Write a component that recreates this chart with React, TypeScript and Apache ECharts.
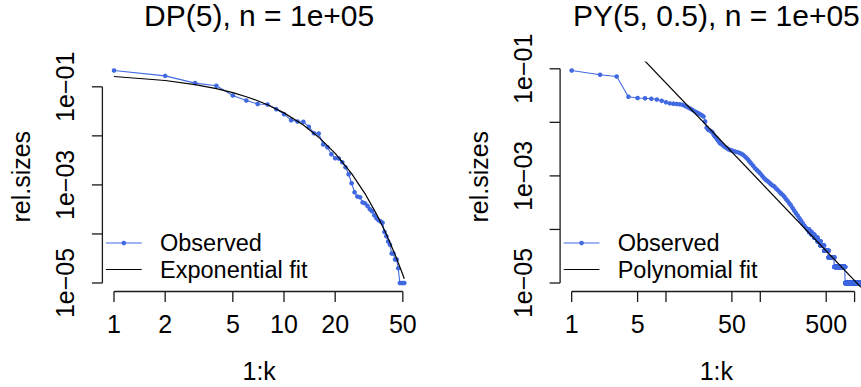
import React, { useEffect, useRef } from "react";
import * as echarts from "echarts";

// ---------------- data ----------------
const N_OBS = 1e5;

// DP(5): relative cluster sizes for k = 1..51 (plotted against 1:k)
const dpRelSizes = [
  0.215, 0.167, 0.119, 0.105, 0.0665, 0.0526, 0.0445, 0.0436, 0.035, 0.0277,
  0.0209, 0.0196, 0.0193, 0.0153, 0.01135, 0.01114, 0.00665, 0.00587, 0.00423, 0.0035,
  0.00344, 0.0029, 0.0023, 0.00165, 0.00108, 0.00071, 0.00058, 0.00056, 0.00044, 0.00042,
  0.00037, 0.00032, 0.00029, 0.00024, 0.00021, 0.00019, 0.00018, 0.00017, 0.00011, 0.00009,
  0.00007, 0.00006, 0.00004, 0.00004, 0.00003, 0.00003, 0.00002, 0.00001, 0.00001, 0.00001,
  0.00001,
];
// Exponential fit
const dpFitK = [1, 2, 3, 4, 5, 6, 7, 8, 10, 13, 16, 20, 25, 30, 35, 40, 45, 50, 51];
const dpFitRel = [
  0.1624, 0.1343, 0.111, 0.0918, 0.076, 0.0628, 0.0519, 0.043, 0.0294, 0.0166,
  0.0094, 0.0044, 0.0017, 0.000658, 0.000254, 0.0000984, 0.0000381, 0.0000147, 0.0000122,
];

// PY(5, 0.5): leading clusters read individually
const pyHeadK = [
  1, 2, 3, 4, 5, 6, 7, 8, 9, 10, 11, 12, 13, 14, 15, 16, 17, 18, 19, 20,
  21, 22, 23, 24, 25, 26, 27, 28, 29, 30, 31, 32, 33, 34, 35, 36, 37, 38, 40, 42,
  44, 46, 48, 50, 53, 56, 59, 62, 65, 68, 71, 74, 77, 80, 84, 88, 92, 96, 100, 105,
  110, 115, 120, 125, 130, 135, 141, 147, 153, 160, 166, 173, 180, 187, 195, 203, 211, 220, 229, 239,
  249, 260, 271, 282, 294, 306,
];
const pyHeadRel = [
  0.0929, 0.0773, 0.0719, 0.03, 0.0284, 0.0281, 0.0275, 0.0267, 0.0252, 0.0237,
  0.0226, 0.0223, 0.022, 0.0217, 0.0212, 0.0202, 0.0192, 0.0181, 0.0171, 0.0162,
  0.0155, 0.0148, 0.0141, 0.0135, 0.0129, 0.0104, 0.00794, 0.00724, 0.00708, 0.00684,
  0.00653, 0.00589, 0.00543, 0.00513, 0.00479, 0.00447, 0.00417, 0.00398, 0.00372, 0.00347,
  0.00331, 0.00316, 0.00305, 0.00297, 0.00288, 0.00279, 0.00272, 0.00263, 0.00251, 0.00234,
  0.00219, 0.00202, 0.00186, 0.0017, 0.00155, 0.00139, 0.00129, 0.00119, 0.00111, 0.001,
  0.000906, 0.000841, 0.000794, 0.000741, 0.0007, 0.000661, 0.000631, 0.000582, 0.000543, 0.000501,
  0.000468, 0.000442, 0.000407, 0.000372, 0.000339, 0.000309, 0.000282, 0.000251, 0.000226, 0.000201,
  0.000182, 0.000162, 0.000145, 0.00013, 0.000117, 0.000107,
];
// PY tail: clusters of a few points each (size in points, first rank with that size)
const pyTailSizes = [10, 9, 8, 7, 6, 5, 4, 3, 2, 1];
const pyTailStartK = [318, 330, 350, 375, 405, 435, 475, 530, 610, 795];
const pyLastK = 1170;
// Polynomial (power-law) fit: straight line in log-log, end points
const pyFitK = [1, 1170];
const pyFitRel = [3.79, 0.00000828];

// axes
const dpXTicks = [1, 2, 5, 10, 20, 50];
const dpXLabels = ["1", "2", "5", "10", "20", "50"];
const pyXTicks = [1, 5, 10, 50, 100, 500, 1000];
const pyXLabels = ["1", "5", "", "50", "", "500", ""];
const yTicks = [1e-1, 1e-2, 1e-3, 1e-4, 1e-5];
const yLabels = ["1e\u221201", "", "1e\u221203", "", "1e\u221205"];

const titles = ["DP(5), n = 1e+05", "PY(5, 0.5), n = 1e+05"];
const fitNames = ["Exponential fit", "Polynomial fit"];
const observedName = "Observed";
const xTitle = "1:k";
const yTitle = "rel.sizes";

// ---------------- style / layout ----------------
const FONT = "'Liberation Sans', Arial, Helvetica, sans-serif";
const FS = 25;
const FS_LEGEND = 23.5;
const FS_TITLE = 30;
const BLUE = "#4169E1";
const AXIS_COLOR = "#1a1a1a";
const AXIS_W = 1.3;
const TICK_LEN = 10.5;
// R plot regions (pixels); the right one runs past the 861px window edge,
// so the chart canvas is made wider and cropped by the wrapper.
const plots = [
  { left: 102.4, top: 62, width: 313.5, height: 229.5 },
  { left: 560.1, top: 62, width: 312.5, height: 229.5 },
];

function rRange(lo: number, hi: number) {
  const a = Math.log10(lo);
  const b = Math.log10(hi);
  const d = (b - a) * 0.04;
  return [Math.pow(10, a - d), Math.pow(10, b + d)];
}

function textStyle(text: string, size: number) {
  return {
    text,
    fill: "#000",
    font: `${size}px ${FONT}`,
    align: "center",
    verticalAlign: "middle",
    textAlign: "center",
    textVerticalAlign: "middle",
  };
}

function xAxisSeries(idx: number, ticks: number[], labels: string[], yAt: number) {
  return {
    type: "custom",
    xAxisIndex: idx,
    yAxisIndex: idx,
    clip: false,
    silent: true,
    z: 5,
    data: ticks.map((t) => [t, yAt]),
    renderItem: (params: any, api: any) => {
      const i = params.dataIndex;
      const p = api.coord([api.value(0), api.value(1)]);
      const children: any[] = [
        {
          type: "line",
          shape: { x1: p[0], y1: p[1], x2: p[0], y2: p[1] + TICK_LEN },
          style: { stroke: AXIS_COLOR, lineWidth: AXIS_W },
        },
      ];
      if (labels[i]) {
        children.push({ type: "text", x: p[0], y: p[1] + 32.5, style: textStyle(labels[i], FS) });
      }
      if (i === 0) {
        const q = api.coord([ticks[ticks.length - 1], yAt]);
        children.push({
          type: "line",
          shape: { x1: p[0], y1: p[1], x2: q[0], y2: q[1] },
          style: { stroke: AXIS_COLOR, lineWidth: AXIS_W },
        });
      }
      return { type: "group", children };
    },
  };
}

function yAxisSeries(idx: number, ticks: number[], labels: string[], xAt: number) {
  return {
    type: "custom",
    xAxisIndex: idx,
    yAxisIndex: idx,
    clip: false,
    silent: true,
    z: 5,
    data: ticks.map((t) => [xAt, t]),
    renderItem: (params: any, api: any) => {
      const i = params.dataIndex;
      const p = api.coord([api.value(0), api.value(1)]);
      const children: any[] = [
        {
          type: "line",
          shape: { x1: p[0] - TICK_LEN, y1: p[1], x2: p[0], y2: p[1] },
          style: { stroke: AXIS_COLOR, lineWidth: AXIS_W },
        },
      ];
      if (labels[i]) {
        children.push({
          type: "text",
          x: p[0] - 37.5,
          y: p[1],
          rotation: Math.PI / 2,
          style: textStyle(labels[i], FS),
        });
      }
      if (i === 0) {
        const q = api.coord([xAt, ticks[ticks.length - 1]]);
        children.push({
          type: "line",
          shape: { x1: p[0], y1: p[1], x2: q[0], y2: q[1] },
          style: { stroke: AXIS_COLOR, lineWidth: AXIS_W },
        });
      }
      return { type: "group", children };
    },
  };
}

function panelGraphics(idx: number) {
  const g = plots[idx];
  const cx = g.left + g.width / 2;
  const bottom = g.top + g.height;
  const yObs = bottom - 48.5;
  const yFit = bottom - 22;
  const lx1 = g.left + 3.6;
  const lx2 = g.left + 39.3;
  const tx = g.left + 57.6;
  const legendText = (t: string, y: number) => ({
    type: "text",
    x: tx,
    y,
    style: {
      text: t,
      fill: "#000",
      font: `${FS_LEGEND}px ${FONT}`,
      lineHeight: FS_LEGEND,
      align: "left",
      verticalAlign: "middle",
      textAlign: "left",
      textVerticalAlign: "middle",
    },
  });
  return [
    { type: "text", x: cx, y: 15.5, style: textStyle(titles[idx], FS_TITLE) },
    { type: "text", x: cx, y: 371, style: textStyle(xTitle, FS) },
    {
      type: "text",
      x: g.left - 81.6,
      y: g.top + g.height / 2,
      rotation: Math.PI / 2,
      style: textStyle(yTitle, FS),
    },
    {
      type: "line",
      shape: { x1: lx1, y1: yObs, x2: lx2, y2: yObs },
      style: { stroke: BLUE, lineWidth: 1.1 },
    },
    {
      type: "circle",
      shape: { cx: (lx1 + lx2) / 2, cy: yObs, r: 2.3 },
      style: { fill: BLUE },
    },
    legendText(observedName, yObs),
    {
      type: "line",
      shape: { x1: lx1, y1: yFit, x2: lx2, y2: yFit },
      style: { stroke: "#000", lineWidth: 1.2 },
    },
    legendText(fitNames[idx], yFit),
  ];
}

export default function App() {
  const ref = useRef<HTMLDivElement>(null);

  useEffect(() => {
    if (!ref.current) return;
    const chart = echarts.init(ref.current, undefined, { renderer: "svg" });

    const dpData = dpRelSizes.map((v, i) => [i + 1, v]);
    const pyData: number[][] = pyHeadK.map((k, i) => [k, pyHeadRel[i]]);
    pyTailSizes.forEach((c, j) => {
      const start = pyTailStartK[j];
      const end = j + 1 < pyTailStartK.length ? pyTailStartK[j + 1] - 1 : pyLastK;
      for (let k = start; k <= end; k++) pyData.push([k, c / N_OBS]);
    });

    const dpX = rRange(1, dpRelSizes.length);
    const dpY = rRange(Math.min(...dpRelSizes), Math.max(...dpRelSizes));
    const pyX = rRange(1, pyLastK);
    const pyY = rRange(
      Math.min(...pyData.map((d) => d[1])),
      Math.max(...pyData.map((d) => d[1]))
    );

    const hiddenAxis = (gridIndex: number, r: number[]) => ({
      type: "log",
      gridIndex,
      min: r[0],
      max: r[1],
      show: false,
      splitLine: { show: false },
    });

    const obsSeries = (idx: number, data: number[][]) => ({
      type: "line",
      name: observedName,
      xAxisIndex: idx,
      yAxisIndex: idx,
      data,
      symbol: "circle",
      symbolSize: 4.6,
      showSymbol: true,
      itemStyle: { color: BLUE },
      lineStyle: { color: BLUE, width: 1.1 },
      emphasis: { disabled: true },
      silent: true,
      z: 2,
    });
    const fitSeries = (idx: number, name: string, data: number[][]) => ({
      type: "line",
      name,
      xAxisIndex: idx,
      yAxisIndex: idx,
      data,
      symbol: "none",
      showSymbol: false,
      clip: true,
      lineStyle: { color: "#000", width: 1.2 },
      emphasis: { disabled: true },
      silent: true,
      z: 3,
    });

    chart.setOption({
      animation: false,
      backgroundColor: "#ffffff",
      grid: plots.map((g) => ({ ...g, containLabel: false })),
      xAxis: [hiddenAxis(0, dpX), hiddenAxis(1, pyX)],
      yAxis: [hiddenAxis(0, dpY), hiddenAxis(1, pyY)],
      series: [
        obsSeries(0, dpData),
        fitSeries(0, fitNames[0], dpFitK.map((k, i) => [k, dpFitRel[i]])),
        obsSeries(1, pyData),
        fitSeries(1, fitNames[1], pyFitK.map((k, i) => [k, pyFitRel[i]])),
        xAxisSeries(0, dpXTicks, dpXLabels, dpY[0]),
        yAxisSeries(0, yTicks, yLabels, dpX[0]),
        xAxisSeries(1, pyXTicks, pyXLabels, pyY[0]),
        yAxisSeries(1, yTicks, yLabels, pyX[0]),
      ],
      graphic: [...panelGraphics(0), ...panelGraphics(1)],
    });

    return () => chart.dispose();
  }, []);

  return (
    <div
      style={{
        position: "absolute",
        left: 0,
        top: 0,
        width: 861,
        height: 387,
        overflow: "hidden",
        background: "#fff",
      }}
    >
      <div ref={ref} style={{ width: 900, height: 387 }} />
    </div>
  );
}
